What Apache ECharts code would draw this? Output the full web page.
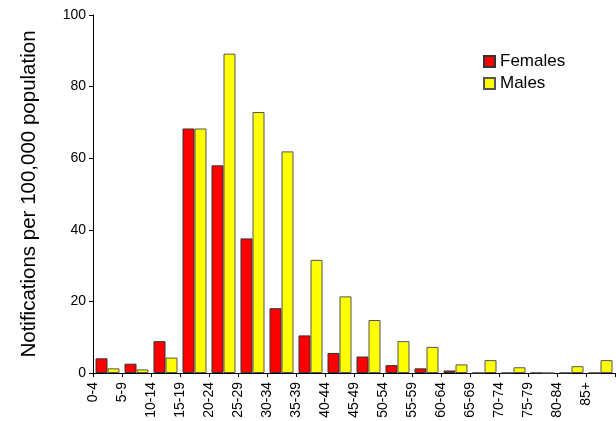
<!DOCTYPE html>
<html>
<head>
<meta charset="utf-8">
<script src="https://cdn.jsdelivr.net/npm/echarts@6/dist/echarts.min.js"></script>
<style>
html,body{margin:0;padding:0;background:#fff;}
#chart{width:616px;height:421px;}
</style>
</head>
<body>
<div id="chart"></div>
<script>
var categories = ['0-4','5-9','10-14','15-19','20-24','25-29','30-34','35-39','40-44','45-49','50-54','55-59','60-64','65-69','70-74','75-79','80-84','85+'];
var females = [4.1, 2.6, 8.9, 68.3, 58.0, 37.6, 18.1, 10.5, 5.6, 4.6, 2.2, 1.3, 0.7, 0, 0, 0, 0, 0];
var males = [1.3, 1.0, 4.3, 68.3, 89.2, 72.9, 61.9, 31.6, 21.4, 14.8, 8.9, 7.3, 2.4, 3.6, 1.6, 0, 1.9, 3.6];
var yTicks = [0, 20, 40, 60, 80, 100];

var chart = echarts.init(document.getElementById('chart'));
var font = '"Liberation Sans", Arial, sans-serif';
chart.setOption({
  animation: false,
  backgroundColor: '#fff',
  textStyle: { fontFamily: font },
  grid: { left: 93, right: 1, top: 15, bottom: 48, containLabel: false },
  legend: {
    orient: 'vertical',
    left: 483, top: 53, padding: 0,
    itemWidth: 11, itemHeight: 11, itemGap: 5,
    icon: 'rect',
    textStyle: { fontSize: 17, color: '#000', fontFamily: font },
    data: ['Females', 'Males']
  },
  xAxis: [
    {
      type: 'category',
      data: categories,
      boundaryGap: true,
      axisLine: { show: false },
      axisTick: { show: false },
      axisLabel: { show: false }
    },
    {
      type: 'value',
      position: 'bottom',
      min: 0, max: categories.length, interval: 1,
      splitLine: { show: false },
      axisLine: { show: true, lineStyle: { color: '#000', width: 1 } },
      axisTick: { show: true, length: 4, lineStyle: { color: '#000' } },
      axisLabel: {
        rotate: 90, margin: 9, fontSize: 14, color: '#000', fontFamily: font,
        showMaxLabel: true, showMinLabel: true,
        formatter: function (v) { return categories[v] !== undefined ? categories[v] : ''; }
      }
    }
  ],
  yAxis: {
    type: 'value',
    min: yTicks[0], max: yTicks[yTicks.length - 1], interval: 20,
    name: 'Notifications per 100,000 population',
    nameLocation: 'middle', nameGap: 53, nameRotate: 90,
    nameTextStyle: { fontSize: 20.5, color: '#000', fontFamily: font },
    splitLine: { show: false },
    axisLine: { show: true, lineStyle: { color: '#000', width: 1 } },
    axisTick: { show: true, length: 4, lineStyle: { color: '#000' } },
    axisLabel: { fontSize: 14, color: '#000', margin: 7, fontFamily: font }
  },
  series: [
    {
      name: 'Females', type: 'bar', xAxisIndex: 0, data: females,
      barWidth: 12, barGap: '0%',
      itemStyle: { color: '#ff0000', borderColor: '#333', borderWidth: 1 }
    },
    {
      name: 'Males', type: 'bar', xAxisIndex: 0, data: males,
      barWidth: 12, barGap: '0%',
      itemStyle: { color: '#ffff00', borderColor: '#555', borderWidth: 1 }
    }
  ]
});
</script>
</body>
</html>
